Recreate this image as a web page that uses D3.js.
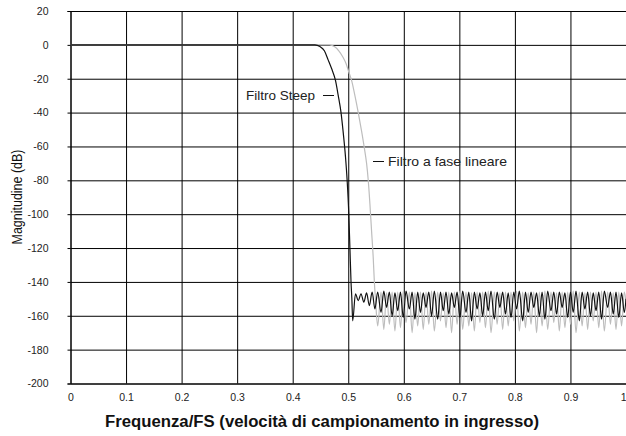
<!DOCTYPE html>
<html><head><meta charset="utf-8">
<script src="https://cdn.jsdelivr.net/npm/d3@7"></script>
<style>body{margin:0;background:#fff}svg{display:block}</style>
</head><body>
<svg id="c" width="626" height="436"></svg>
<script>
const xTicks = [0, 0.1, 0.2, 0.3, 0.4, 0.5, 0.6, 0.7, 0.8, 0.9, 1];
const xTickLabels = ["0", "0.1", "0.2", "0.3", "0.4", "0.5", "0.6", "0.7", "0.8", "0.9", "1"];
const yTicks = [20, 0, -20, -40, -60, -80, -100, -120, -140, -160, -180, -200];
const yTickLabels = ["20", "0", "-20", "-40", "-60", "-80", "-100", "-120", "-140", "-160", "-180", "-200"];
const xTitle = "Frequenza/FS (velocità di campionamento in ingresso)";
const yTitle = "Magnitudine (dB)";
const seriesNames = ["Filtro Steep", "Filtro a fase lineare"];

// [frequency/FS, dB]
const steepResponse = [
  [0,0],[0.440,0],[0.449,-1],[0.457,-3.5],[0.464,-9],[0.470,-14],[0.477,-21],[0.482,-30],
  [0.487,-40],[0.491,-52],[0.495,-66],[0.498,-80],[0.501,-100],[0.503,-120],[0.505,-140],[0.5065,-150],
  [0.508,-163],[0.513,-147],[0.518,-151],[0.523,-147],[0.528,-152],[0.533,-146.5],[0.538,-154],[0.543,-146],
  [0.548,-156],[0.553,-146],[0.559,-158],[0.564,-145.5],[0.569,-155],[0.574,-146],[0.579,-160],[0.584,-146.5],
  [0.589,-157],[0.594,-146],[0.599,-161],[0.604,-145.5],[0.610,-156],[0.615,-146],[0.620,-162],[0.625,-146],
  [0.630,-158],[0.635,-146.5],[0.640,-155],[0.645,-146],[0.650,-160],[0.655,-145.5],[0.661,-162],[0.666,-146],
  [0.671,-157],[0.676,-146],[0.681,-159],[0.686,-146.5],[0.691,-155],[0.696,-146],[0.701,-161],[0.706,-145.5],
  [0.712,-158],[0.717,-146],[0.722,-163],[0.727,-146],[0.732,-156],[0.737,-146.5],[0.742,-160],[0.747,-146],
  [0.752,-157],[0.757,-145.5],[0.763,-162],[0.768,-146],[0.773,-155],[0.778,-146],[0.783,-159],[0.788,-146.5],
  [0.793,-161],[0.798,-146],[0.803,-156],[0.808,-145.5],[0.814,-163],[0.819,-146],[0.824,-158],[0.829,-146],
  [0.834,-155],[0.839,-146.5],[0.844,-160],[0.849,-146],[0.854,-162],[0.859,-145.5],[0.865,-157],[0.870,-146],
  [0.875,-159],[0.880,-146],[0.885,-155],[0.890,-146.5],[0.895,-161],[0.900,-146],[0.905,-158],[0.910,-145.5],
  [0.916,-163],[0.921,-146],[0.926,-156],[0.931,-146],[0.936,-160],[0.941,-146.5],[0.946,-157],[0.951,-146],
  [0.956,-162],[0.961,-145.5],[0.967,-155],[0.972,-146],[0.977,-159],[0.982,-146],[0.987,-161],[0.992,-146.5],
  [0.997,-158],[1.000,-150]
];

const linearResponse = [
  [0,0],[0.466,0],[0.475,-1],[0.483,-3.5],[0.490,-7],[0.496,-11],[0.501,-16],[0.506,-21],[0.512,-30],
  [0.518,-40],[0.524,-51],[0.529,-61],[0.533,-70],[0.536,-80],[0.539,-94],[0.542,-110],[0.545,-126],
  [0.547,-140],[0.549,-150],
  [0.553,-166],[0.559,-146],[0.564,-168],[0.569,-146.5],[0.574,-165],[0.579,-146],[0.584,-169],[0.589,-146],
  [0.594,-167],[0.599,-145.5],[0.604,-164],[0.610,-146],[0.615,-170],[0.620,-146.5],[0.625,-166],[0.630,-146],
  [0.635,-168],[0.640,-146],[0.645,-165],[0.650,-145.5],[0.655,-169],[0.661,-146],[0.666,-163],[0.671,-146.5],
  [0.676,-167],[0.681,-146],[0.686,-170],[0.691,-146],[0.696,-165],[0.701,-145.5],[0.706,-168],[0.712,-146],
  [0.717,-166],[0.722,-146.5],[0.727,-169],[0.732,-146],[0.737,-164],[0.742,-146],[0.747,-167],[0.752,-145.5],
  [0.757,-170],[0.763,-146],[0.768,-165],[0.773,-146.5],[0.778,-168],[0.783,-146],[0.788,-166],[0.793,-146],
  [0.798,-163],[0.803,-145.5],[0.808,-169],[0.814,-146],[0.819,-167],[0.824,-146.5],[0.829,-165],[0.834,-146],
  [0.839,-170],[0.844,-146],[0.849,-166],[0.854,-145.5],[0.859,-168],[0.865,-146],[0.870,-164],[0.875,-146.5],
  [0.880,-169],[0.885,-146],[0.890,-167],[0.895,-146],[0.900,-165],[0.905,-145.5],[0.910,-170],[0.916,-146],
  [0.921,-166],[0.926,-146.5],[0.931,-168],[0.936,-146],[0.941,-163],[0.946,-146],[0.951,-167],[0.956,-145.5],
  [0.961,-169],[0.967,-146],[0.972,-165],[0.977,-146.5],[0.982,-168],[0.987,-146],[0.992,-166],[0.997,-146],
  [1.000,-152]
];

const svg = d3.select("#c");
const x = d3.scaleLinear().domain([0, 1]).range([70.5, 626]);
const y = d3.scaleLinear().domain([-200, 20]).range([383.5, 11]);
const font = "'Liberation Sans', Arial, sans-serif";

// vertical grid
svg.append("g")
  .attr("transform", `translate(0,${y(-200)})`)
  .call(d3.axisBottom(x).tickValues(xTicks).tickSize(-(y(-200) - y(20))).tickFormat(""))
  .call(g => g.select(".domain").remove())
  .call(g => g.selectAll("line").attr("stroke", "#000").attr("stroke-width", 1));

// horizontal grid
svg.append("g")
  .attr("transform", `translate(${x(0)},0)`)
  .call(d3.axisLeft(y).tickValues(yTicks).tickSize(-(x(1) - x(0))).tickFormat(""))
  .call(g => g.select(".domain").remove())
  .call(g => g.selectAll("line").attr("stroke", "#000").attr("stroke-width", 1));

// y axis with small outward ticks and labels
svg.append("g")
  .attr("transform", `translate(${x(0)},0)`)
  .call(d3.axisLeft(y).tickValues(yTicks).tickSize(3).tickPadding(19)
        .tickFormat((d, i) => yTickLabels[i]))
  .call(g => g.select(".domain").attr("stroke", "#000"))
  .call(g => g.selectAll("line").attr("stroke", "#000"))
  .call(g => g.selectAll("text").attr("font-family", font).attr("font-size", "10.5px").attr("fill", "#222"));

// x axis labels
svg.append("g")
  .attr("transform", `translate(0,${y(-200)})`)
  .call(d3.axisBottom(x).tickValues(xTicks).tickSize(0).tickPadding(10)
        .tickFormat((d, i) => xTickLabels[i]))
  .call(g => g.select(".domain").attr("stroke", "#000"))
  .call(g => g.selectAll("text").attr("font-family", font).attr("font-size", "10.5px").attr("fill", "#222"))
  .call(g => g.selectAll(".tick").filter(d => d === 1).select("text").attr("text-anchor", "end").attr("x", 0));

// clip
svg.append("clipPath").attr("id", "clip").append("rect")
  .attr("x", x(0)).attr("y", y(20)).attr("width", x(1) - x(0)).attr("height", y(-200) - y(20));

const line = d3.line().x(d => x(d[0])).y(d => y(d[1])).curve(d3.curveMonotoneX);
const plot = svg.append("g").attr("clip-path", "url(#clip)");
plot.append("path").datum(linearResponse).attr("d", line)
  .attr("fill", "none").attr("stroke", "#bdbdbd").attr("stroke-width", 1.2);
plot.append("path").datum(steepResponse).attr("d", line)
  .attr("fill", "none").attr("stroke", "#111").attr("stroke-width", 1.2);

// annotations
svg.append("text").attr("x", 246).attr("y", 100).attr("font-family", font).attr("font-size", "13px")
  .attr("fill", "#222").attr("textLength", 69).attr("lengthAdjust", "spacingAndGlyphs").text(seriesNames[0]);
svg.append("line").attr("x1", 323).attr("x2", 334).attr("y1", 95.5).attr("y2", 95.5).attr("stroke", "#111");
svg.append("line").attr("x1", 373).attr("x2", 384).attr("y1", 161.5).attr("y2", 161.5).attr("stroke", "#111");
svg.append("text").attr("x", 388).attr("y", 166).attr("font-family", font).attr("font-size", "13px")
  .attr("fill", "#222").attr("textLength", 119).attr("lengthAdjust", "spacingAndGlyphs").text(seriesNames[1]);

// axis titles
svg.append("text").attr("transform", "translate(22,197) rotate(-90)").attr("text-anchor", "middle")
  .attr("font-family", font).attr("font-size", "14.5px").attr("fill", "#111")
  .attr("textLength", 95).attr("lengthAdjust", "spacingAndGlyphs").text(yTitle);
svg.append("text").attr("x", 322).attr("y", 427).attr("text-anchor", "middle")
  .attr("font-family", font).attr("font-size", "16px").attr("font-weight", "bold").attr("fill", "#111")
  .attr("textLength", 434).attr("lengthAdjust", "spacingAndGlyphs").text(xTitle);
</script>
</body></html>
